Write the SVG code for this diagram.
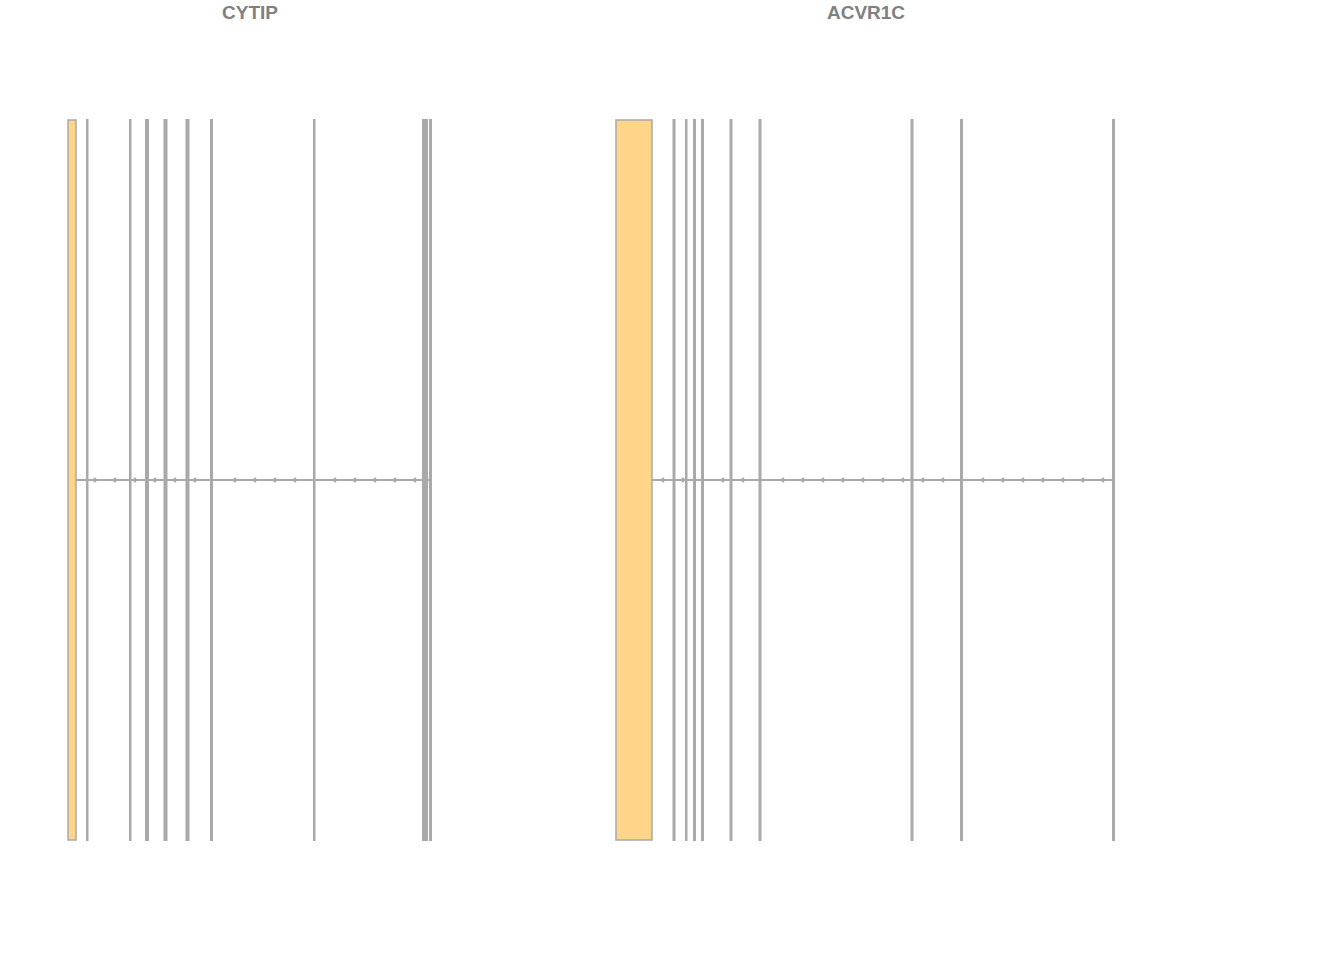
<svg xmlns="http://www.w3.org/2000/svg" width="1344" height="960" viewBox="0 0 1344 960">
<defs>
<style>
.title{font-family:"Liberation Sans",Arial,sans-serif;font-weight:bold;font-size:19px;fill:#808080;text-anchor:middle}
.utr{fill:#FFD58A;stroke:#A9A9A9;stroke-width:1.5}
.exon{fill:#A9A9A9;stroke:none}
.intron{stroke:#A9A9A9;stroke-width:2;fill:none}
.arr{stroke:#A9A9A9;stroke-width:1.6;fill:none}
</style>
<path id="chev" d="M2,-2 L-1.2,0 L2,2" class="arr"/>
</defs>
<rect width="1344" height="960" fill="#ffffff"/>
<g id="gene-CYTIP">
<text class="title" x="250" y="19">CYTIP</text>
<g id="CYTIP-connectors">
<line class="intron" x1="76" y1="480" x2="430" y2="480"/>
<use href="#chev" x="94" y="480"/><use href="#chev" x="114" y="480"/><use href="#chev" x="134" y="480"/>
<use href="#chev" x="154" y="480"/><use href="#chev" x="174" y="480"/><use href="#chev" x="194" y="480"/>
<use href="#chev" x="234" y="480"/><use href="#chev" x="254" y="480"/><use href="#chev" x="274" y="480"/>
<use href="#chev" x="294" y="480"/><use href="#chev" x="334" y="480"/><use href="#chev" x="354" y="480"/>
<use href="#chev" x="374" y="480"/><use href="#chev" x="394" y="480"/><use href="#chev" x="414" y="480"/>
</g>
<g id="CYTIP-exons">
<rect class="utr" x="68" y="120" width="8" height="720"/>
<rect class="exon" x="86" y="119" width="2.5" height="722"/>
<rect class="exon" x="129" y="119" width="2.5" height="722"/>
<rect class="exon" x="145" y="119" width="4" height="722"/>
<rect class="exon" x="163.5" y="119" width="4" height="722"/>
<rect class="exon" x="185.5" y="119" width="4" height="722"/>
<rect class="exon" x="210" y="119" width="3" height="722"/>
<rect class="exon" x="313" y="119" width="2.5" height="722"/>
<rect class="exon" x="422" y="119" width="6" height="722"/>
<rect class="exon" x="429" y="119" width="3" height="722"/>
</g>
</g>
<g id="gene-ACVR1C">
<text class="title" x="866" y="19">ACVR1C</text>
<g id="ACVR1C-connectors">
<line class="intron" x1="652" y1="480" x2="1114" y2="480"/>
<use href="#chev" x="662" y="480"/><use href="#chev" x="682" y="480"/><use href="#chev" x="722" y="480"/>
<use href="#chev" x="742" y="480"/><use href="#chev" x="782" y="480"/><use href="#chev" x="802" y="480"/>
<use href="#chev" x="822" y="480"/><use href="#chev" x="842" y="480"/><use href="#chev" x="862" y="480"/>
<use href="#chev" x="882" y="480"/><use href="#chev" x="902" y="480"/><use href="#chev" x="922" y="480"/>
<use href="#chev" x="942" y="480"/><use href="#chev" x="982" y="480"/><use href="#chev" x="1002" y="480"/>
<use href="#chev" x="1022" y="480"/><use href="#chev" x="1042" y="480"/><use href="#chev" x="1062" y="480"/>
<use href="#chev" x="1082" y="480"/><use href="#chev" x="1102" y="480"/>
</g>
<g id="ACVR1C-exons">
<rect class="utr" x="616" y="120" width="36" height="720"/>
<rect class="exon" x="672.5" y="119" width="3" height="722"/>
<rect class="exon" x="685" y="119" width="2.5" height="722"/>
<rect class="exon" x="693" y="119" width="3" height="722"/>
<rect class="exon" x="701" y="119" width="3" height="722"/>
<rect class="exon" x="729.5" y="119" width="3" height="722"/>
<rect class="exon" x="758.5" y="119" width="3" height="722"/>
<rect class="exon" x="910.5" y="119" width="3" height="722"/>
<rect class="exon" x="960" y="119" width="3" height="722"/>
<rect class="exon" x="1112" y="119" width="3" height="722"/>
</g>
</g>
</svg>
